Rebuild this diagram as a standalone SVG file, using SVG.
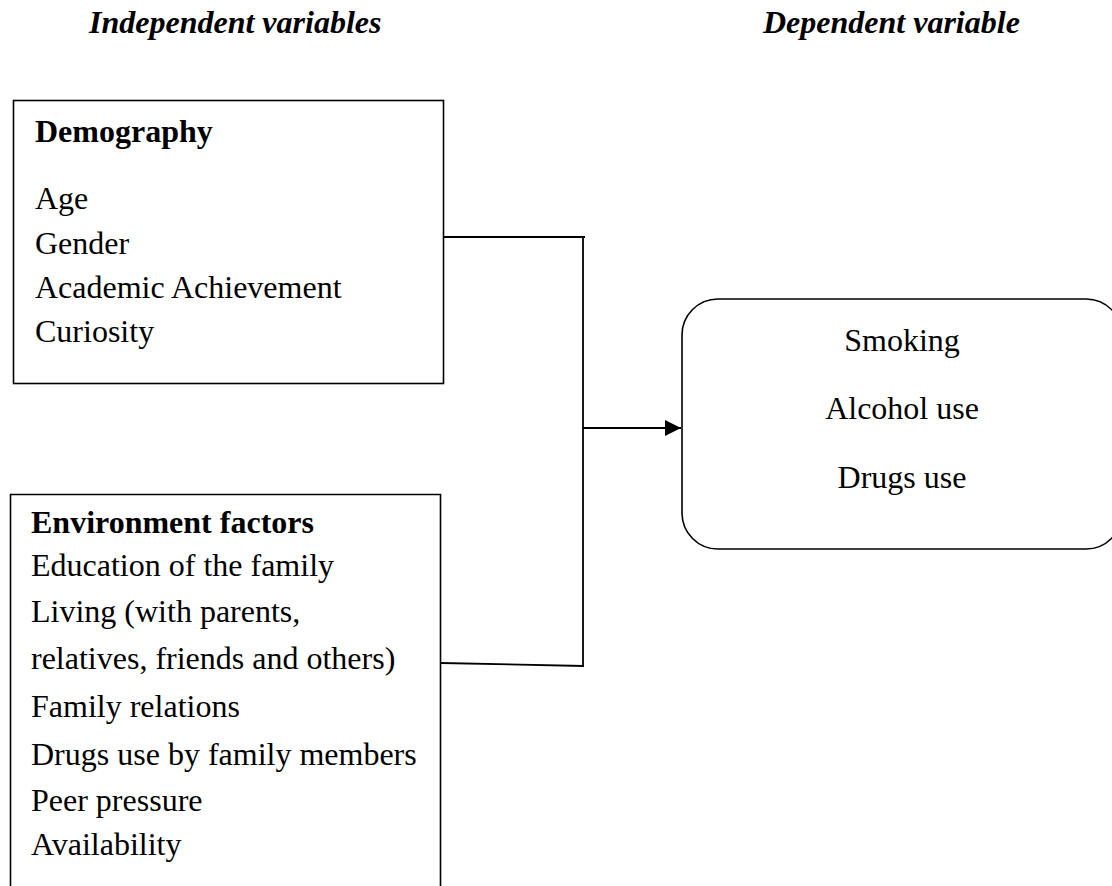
<svg xmlns="http://www.w3.org/2000/svg" width="1112" height="886" viewBox="0 0 1112 886">
<style>
text{font-family:"Liberation Serif","Times New Roman",serif;font-size:32px;fill:#000}
.hdr{font-weight:bold;font-style:italic}
.b{font-weight:bold}
.box{fill:#fff;stroke:#000;stroke-width:1.6}
.ln{fill:none;stroke:#000;stroke-width:1.8}
</style>
<defs>
<marker id="arr" markerWidth="16" markerHeight="16" refX="16" refY="8" orient="auto" markerUnits="userSpaceOnUse">
<path d="M0,0 L16,8 L0,16 Z" fill="#000"/>
</marker>
</defs>
<rect width="1112" height="886" fill="#fff"/>
<g id="headers">
<text class="hdr" x="89" y="33">Independent variables</text>
<text class="hdr" x="763" y="33">Dependent variable</text>
</g>
<g id="demography">
<rect class="box" x="13.5" y="100.5" width="430" height="283"/>
<text class="b" x="35" y="142">Demography</text>
<text x="35" y="209">Age</text>
<text x="35" y="254">Gender</text>
<text x="35" y="298">Academic Achievement</text>
<text x="35" y="342">Curiosity</text>
</g>
<g id="environment">
<path class="box" d="M10.5,900 L10.5,494.5 L440.5,494.5 L440.5,900"/>
<text class="b" x="31" y="533">Environment factors</text>
<text x="31" y="576">Education of the family</text>
<text x="31" y="622">Living (with parents,</text>
<text x="31" y="669">relatives, friends and others)</text>
<text x="31" y="717">Family relations</text>
<text x="31" y="765">Drugs use by family members</text>
<text x="31" y="811">Peer pressure</text>
<text x="31" y="855">Availability</text>
</g>
<g id="dependent">
<rect class="box" x="682" y="299" width="440" height="250" rx="36" ry="36"/>
<text x="902" y="351" text-anchor="middle">Smoking</text>
<text x="902" y="419" text-anchor="middle">Alcohol use</text>
<text x="902" y="488" text-anchor="middle">Drugs use</text>
</g>
<g id="connectors">
<path class="ln" d="M443,237 L585,237"/>
<path class="ln" d="M583,237 L583,666"/>
<path class="ln" d="M441,663 L584,666"/>
<path class="ln" d="M583,428 L681,428" marker-end="url(#arr)"/>
</g>
</svg>
